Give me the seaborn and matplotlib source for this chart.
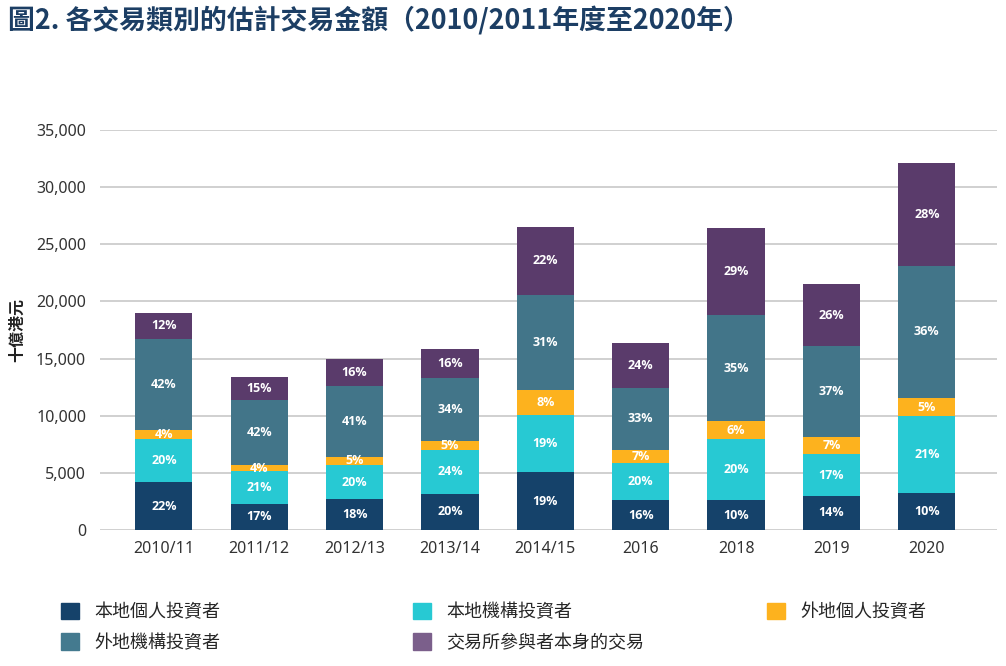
import seaborn as sns
import matplotlib.pyplot as plt
import matplotlib.patches as mpatches
import pandas as pd
import numpy as np

# data (HK$ billion)
years = ['2010/11', '2011/12', '2012/13', '2013/14', '2014/15', '2016', '2018', '2019', '2020']
local_retail = [4180, 2310, 2690, 3190, 5050, 2620, 2640, 3000, 3210]
local_inst = [3800, 2850, 2990, 3820, 5050, 3270, 5290, 3640, 6740]
overseas_retail = [760, 540, 750, 800, 2130, 1150, 1590, 1500, 1610]
overseas_inst = [7980, 5700, 6140, 5500, 8350, 5400, 9250, 7930, 11560]
exchange_part = [2280, 2030, 2390, 2550, 5920, 3930, 7660, 5470, 8990]

pct_local_retail = [22, 17, 18, 20, 19, 16, 10, 14, 10]
pct_local_inst = [20, 21, 20, 24, 19, 20, 20, 17, 21]
pct_overseas_retail = [4, 4, 5, 5, 8, 7, 6, 7, 5]
pct_overseas_inst = [42, 42, 41, 34, 31, 33, 35, 37, 36]
pct_exchange_part = [12, 15, 16, 16, 22, 24, 29, 26, 28]

names = ['本地個人投資者', '本地機構投資者', '外地個人投資者', '外地機構投資者', '交易所參與者本身的交易']
colors = ['#15426a', '#27c9d3', '#fdb21e', '#427589', '#5a3b6b']
legend_colors = ['#15426a', '#27c9d3', '#fdb21e', '#447a8f', '#7b5f8b']

sns.set_style('white')
plt.rcParams['font.family'] = ['Noto Sans CJK TC', 'DejaVu Sans']
num_font = ['Noto Sans', 'Noto Sans CJK TC']
label_font = ['Open Sans', 'Noto Sans']

series = [local_retail, local_inst, overseas_retail, overseas_inst, exchange_part]
pcts = [pct_local_retail, pct_local_inst, pct_overseas_retail, pct_overseas_inst, pct_exchange_part]

df = pd.DataFrame({'year': years})
cum = np.cumsum(np.array(series), axis=0)
for i in range(5):
    df['c%d' % i] = cum[i]

fig = plt.figure(figsize=(10.06, 6.66), dpi=100)
ax = fig.add_axes([0.0994, 0.204, 0.892, 0.601])

# stacked bars: draw tallest first, then cover downward
for i in range(4, -1, -1):
    sns.barplot(data=df, x='year', y='c%d' % i, color=colors[i], saturation=1,
                width=0.6, ax=ax, zorder=3, linewidth=0)

for i in range(5):
    bottoms = cum[i] - np.array(series[i])
    for j in range(len(years)):
        ax.text(j, bottoms[j] + series[i][j] / 2, '%d%%' % pcts[i][j],
                ha='center', va='center', color='white', fontsize=9,
                fontweight='bold', family=label_font, zorder=5)

ax.set_ylim(0, 35000)
ax.set_xlim(-0.67, 8.74)
ax.set_yticks(range(0, 35001, 5000))
ax.yaxis.set_major_formatter(plt.FuncFormatter(lambda v, p: '{:,.0f}'.format(v)))
ax.grid(axis='y', color='#c4c4c4', linewidth=1.1, zorder=0)
ax.set_axisbelow(True)
for s in ax.spines.values():
    s.set_visible(False)
ax.tick_params(axis='both', length=0, labelsize=11.5, labelcolor='#333333')
ax.tick_params(axis='y', pad=10)
ax.tick_params(axis='x', pad=8)
for lab in ax.get_xticklabels() + ax.get_yticklabels():
    lab.set_family(num_font)
ax.set_xlabel('')
ax.set_ylabel('十億港元', fontsize=11.5, fontweight='bold', color='#222222', labelpad=8)

fig.text(0.008, 0.969, '圖2. 各交易類別的估計交易金額（2010/2011年度至2020年）',
         fontsize=19.4, fontweight='bold', color='#1c3e64', ha='left', va='center')

# legend, three columns placed like the original
cols = [[0, 3], [1, 4], [2]]
xs = [0.053, 0.403, 0.755]
for c, x0 in zip(cols, xs):
    handles = [mpatches.Patch(color=legend_colors[k], label=names[k]) for k in c]
    fig.legend(handles=handles, loc='upper left', bbox_to_anchor=(x0, 0.105),
               bbox_transform=fig.transFigure, frameon=False, fontsize=13,
               handlelength=1.0, handleheight=1.0, handletextpad=0.85,
               labelspacing=0.66, borderaxespad=0)

fig.savefig('out.png', dpi=100)
